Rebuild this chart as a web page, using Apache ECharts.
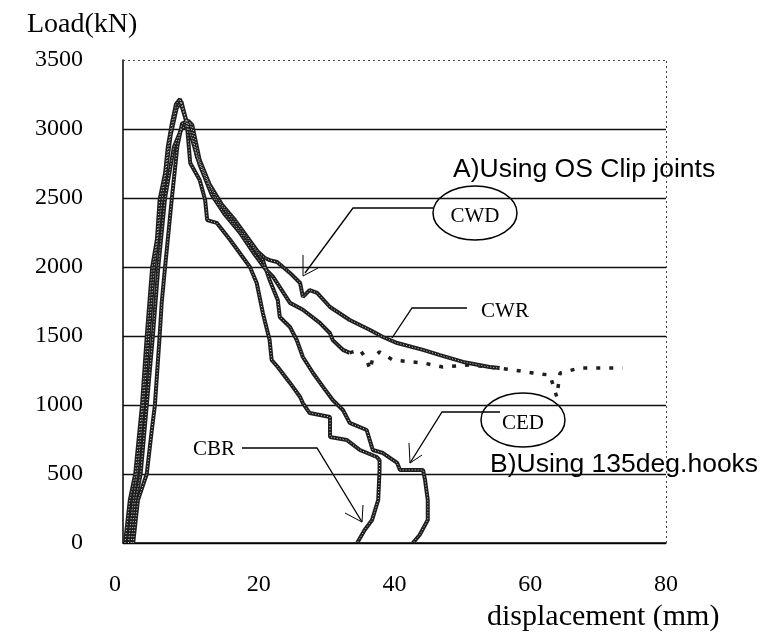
<!DOCTYPE html>
<html>
<head>
<meta charset="utf-8">
<script src="https://cdn.jsdelivr.net/npm/echarts@6/dist/echarts.min.js"></script>
<style>html,body{margin:0;padding:0;background:#fff}#c{width:773px;height:635px}</style>
</head>
<body>
<div id="c"></div>
<script>
// Tick values
var xTicks = [0, 20, 40, 60, 80];
var yTicks = [0, 500, 1000, 1500, 2000, 2500, 3000, 3500];

// Series: [displacement (mm), load (kN)]
var CWR = [[0.3,0],[1.0,310],[1.8,500],[2.8,1000],[3.5,1500],[4.3,2000],[5.0,2200],[5.4,2490],[6.2,2680],[6.6,2870],[7.2,3040],[7.8,3180],[8.4,3217],
  [8.8,3140],[10.2,2920],[11.3,2740],[13.1,2520],[15.0,2380],[17.2,2250],[19.4,2090],[20.9,1990],[22.1,1930],[24.6,1740],[26.5,1690],[29.0,1595],[30.5,1520],[30.9,1470],[32.4,1400],[33.4,1378]];
var CWR_tail = [[33.4,1378],[34.9,1400],[35.9,1330],[36.4,1255],[36.8,1340],[37.8,1385],[39.8,1325],[44.2,1305],[47.1,1275],[51.1,1290],[54.0,1275],[57.4,1255],[60.4,1232],[62.9,1217],[63.9,1060],[64.4,1232],[67.3,1268],[69.2,1268],[71.3,1268],[73.6,1268]];
var CWD = [[1.5,0],[2.2,310],[3.5,500],[4.2,800],[4.7,1000],[5.4,1500],[5.7,1740],[6.2,2000],[6.8,2300],[7.2,2500],[8.0,2870],[8.7,3040],[9.6,3060],
  [10.2,3030],[11.3,2775],[12.8,2595],[14.6,2450],[16.5,2340],[18.4,2210],[19.9,2110],[20.9,2065],[21.6,2050],[22.7,2036],[24.6,1957],[26.1,1884],[26.5,1783],[27.5,1833],[28.6,1812],[30.5,1710],[33.4,1616],[36.4,1543],[38.3,1493],[40.4,1449],[44.2,1399],[46.7,1362],[50.1,1312],[54.0,1275],[55.5,1268]];
var CBR = [[0.8,0],[1.5,300],[2.3,600],[3.0,1000],[3.8,1500],[4.6,2000],[5.8,2500],[7.0,2950],[7.9,3150],[8.6,3200],
  [9.4,3043],[9.9,2754],[11.3,2630],[12.1,2485],[12.4,2340],[13.8,2320],[15.8,2196],[18.7,2000],[19.7,1884],[20.6,1667],[21.6,1471],[21.9,1326],[22.8,1275],[24.6,1160],[26.1,1058],[26.5,1014],[27.5,942],[30.5,913],[30.5,768],[33.0,746],[34.9,674],[37.4,623],[37.8,600],[37.8,529],[37.6,312],[36.7,167],[35.6,94],[34.5,0]];
var CED = [[1.2,0],[1.8,300],[2.6,500],[3.5,1000],[4.4,1500],[5.2,2000],[6.2,2500],[7.5,2870],[8.6,3000],[9.9,3043],
  [10.9,2797],[12.4,2630],[13.8,2485],[15.3,2391],[16.8,2290],[18.7,2174],[20.6,2050],[21.6,1906],[22.8,1761],[23.1,1638],[24.6,1565],[25.6,1471],[26.5,1348],[28.0,1232],[29.5,1130],[30.9,1036],[32.4,964],[33.4,870],[35.9,819],[36.8,674],[38.3,652],[40.4,580],[40.8,529],[44.2,529],[44.5,457],[44.9,312],[44.9,167],[43.7,58],[42.7,0]];

var chart = echarts.init(document.getElementById('c'), null, {renderer: 'canvas'});
function mk(name, data, dashed) {
  return {
    name: name, type: 'line', data: data, showSymbol: false, silent: true,
    lineStyle: {color: '#1e1e1e', width: dashed ? 3.5 : 4, type: dashed ? [4, 9] : 'solid'},
    z: 3
  };
}
function speckle(name, data) {
  return {
    name: name + '_s', type: 'line', data: data, showSymbol: false, silent: true,
    lineStyle: {color: '#ffffff', width: 1, type: [1, 2], opacity: 0.8},
    z: 4
  };
}
var serif = 'Liberation Serif';
var series = [
  mk('CWR', CWR), mk('CWR2', CWR_tail, true), mk('CWD', CWD), mk('CBR', CBR), mk('CED', CED),
  speckle('CWR', CWR), speckle('CWD', CWD), speckle('CBR', CBR), speckle('CED', CED)
];
series[0].markLine = {
  silent: true, symbol: 'none', label: {show: false},
  lineStyle: {color: '#444', width: 1, type: [2, 3]},
  data: [{yAxis: 3500}, {xAxis: 80}]
};
var option = {
  backgroundColor: '#fff',
  animation: false,
  grid: {left: 123, right: 107, top: 60, bottom: 92},
  xAxis: {
    type: 'value', min: xTicks[0], max: xTicks[xTicks.length - 1], interval: 20,
    axisLine: {show: true, lineStyle: {color: '#000', width: 1.5}},
    axisTick: {show: false},
    splitLine: {show: false},
    axisLabel: {color: '#000', fontFamily: serif, fontSize: 24, margin: 30,
      formatter: function (v) { return v === 0 ? '{z|0}' : String(v); },
      rich: {z: {fontFamily: serif, fontSize: 24, color: '#000', padding: [0, 16, 0, 0]}}}
  },
  yAxis: {
    type: 'value', min: yTicks[0], max: yTicks[yTicks.length - 1], interval: 500,
    axisLine: {show: true, lineStyle: {color: '#000', width: 1.5}},
    axisTick: {show: false},
    splitLine: {show: true, showMaxLine: false, lineStyle: {color: '#111', width: 1.3}},
    axisLabel: {color: '#000', fontFamily: serif, fontSize: 24, margin: 40,
      formatter: function (v) { return String(v); }}
  },
  series: series,
  graphic: [
    {type: 'text', left: 27, top: 11, style: {text: 'Load(kN)', font: '28px "Liberation Serif"', fill: '#000'}},
    {type: 'text', left: 487, top: 602, style: {text: 'displacement (mm)', font: '30px "Liberation Serif"', fill: '#000'}},
    {type: 'text', left: 453, top: 156, style: {text: 'A)Using OS Clip joints', font: '26.5px "Liberation Sans"', fill: '#000'}},
    {type: 'text', left: 490, top: 451, style: {text: 'B)Using 135deg.hooks', font: '26.5px "Liberation Sans"', fill: '#000'}},
    {type: 'ellipse', shape: {cx: 475, cy: 213, rx: 42, ry: 27}, style: {fill: 'none', stroke: '#000', lineWidth: 1.5}},
    {type: 'ellipse', shape: {cx: 523, cy: 420, rx: 42, ry: 27}, style: {fill: 'none', stroke: '#000', lineWidth: 1.5}},
    {type: 'text', x: 475, y: 216, style: {text: 'CWD', font: '21px "Liberation Serif"', fill: '#000', align: 'center', verticalAlign: 'middle'}},
    {type: 'text', x: 523, y: 423, style: {text: 'CED', font: '21px "Liberation Serif"', fill: '#000', align: 'center', verticalAlign: 'middle'}},
    {type: 'text', x: 505, y: 311, style: {text: 'CWR', font: '21px "Liberation Serif"', fill: '#000', align: 'center', verticalAlign: 'middle'}},
    {type: 'text', x: 214, y: 449, style: {text: 'CBR', font: '21px "Liberation Serif"', fill: '#000', align: 'center', verticalAlign: 'middle'}},
    {type: 'polyline', shape: {points: [[433,208],[353,208],[305,273]]}, style: {fill: 'none', stroke: '#000', lineWidth: 1.3}},
    {type: 'polyline', shape: {points: [[303,255],[303,276],[318,268]]}, style: {fill: 'none', stroke: '#000', lineWidth: 1}},
    {type: 'polyline', shape: {points: [[467,308],[412,308],[392,338]]}, style: {fill: 'none', stroke: '#000', lineWidth: 1.3}},
    {type: 'polyline', shape: {points: [[500,412],[442,412],[410,463]]}, style: {fill: 'none', stroke: '#000', lineWidth: 1.3}},
    {type: 'polyline', shape: {points: [[409,443],[410,463],[422,455]]}, style: {fill: 'none', stroke: '#000', lineWidth: 1}},
    {type: 'polyline', shape: {points: [[242,448],[317,448],[362,522]]}, style: {fill: 'none', stroke: '#000', lineWidth: 1.3}},
    {type: 'polyline', shape: {points: [[345,513],[362,522],[363,505]]}, style: {fill: 'none', stroke: '#000', lineWidth: 1}}
  ]
};
chart.setOption(option);
</script>
</body>
</html>
